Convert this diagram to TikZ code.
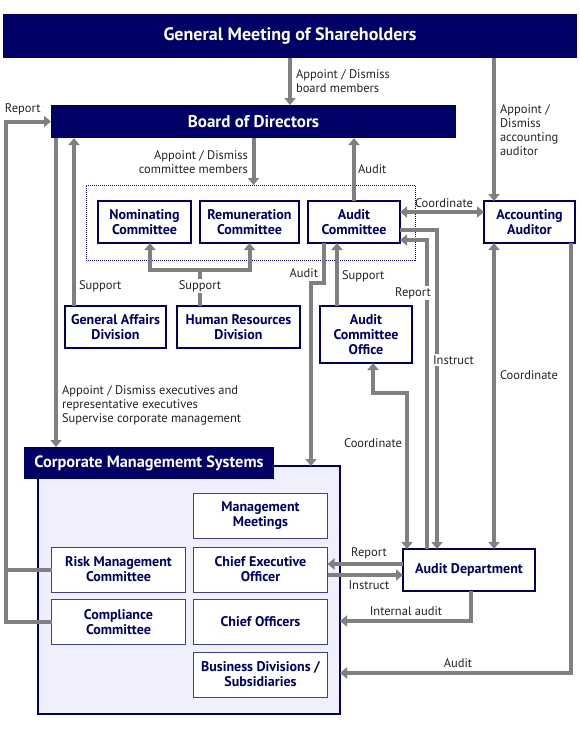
\documentclass[tikz,border=0pt]{standalone}
\usepackage{fontspec}
\setmainfont{PT Sans}
\usetikzlibrary{arrows.meta}
\definecolor{navy}{RGB}{0,0,102}
\definecolor{pipegray}{RGB}{128,128,128}
\definecolor{lav}{RGB}{240,240,252}
\definecolor{ink}{RGB}{35,35,35}
\begin{document}
\begin{tikzpicture}[x=1pt,y=-1pt]
\tikzset{ >={Triangle[width=11pt,length=7pt]}, inner sep=0pt, outer sep=0pt,
  bar/.style={fill=navy, text=white, font=\fontsize{18}{20}\selectfont\bfseries},
  cbox/.style={draw=navy, line width=2pt, fill=white, text=navy, align=center,
    minimum height=42pt, font=\fontsize{14}{15}\selectfont\bfseries},
  ibox/.style={draw=navy!75, line width=1pt, fill=white, text=navy, align=center,
    minimum width=134pt, minimum height=45pt, font=\fontsize{14}{15}\selectfont\bfseries},
  lbl/.style={text=ink, font=\fontsize{12.5}{14}\selectfont, align=left},
  wlbl/.style={lbl, fill=white, inner sep=1.5pt},
  pipe/.style={pipegray, line width=4pt},
  arr/.style={pipe, ->},
  darr/.style={pipe, <->},
}
\useasboundingbox (0,0) rectangle (580,729);

%\draw [lightgray, dashed] (0,0) grid [step=50] (580,729);

\node [bar, minimum width=574pt, minimum height=44pt] (GMS) at (290,36) {General Meeting of Shareholders};
\node [bar, minimum width=405pt, minimum height=33pt, font=\fontsize{17}{19}\selectfont\bfseries] (BD) at (253.5,121.5) {Board of Directors};

\node [draw=navy, densely dotted, line width=1pt, minimum width=329pt, minimum height=75pt] (CG) at (250.5,222.5) {};
\node [cbox, minimum width=93pt] (NC) at (144.5,222) {Nominating\\Committee};
\node [cbox, minimum width=99pt] (RC) at (249.5,222) {Remuneration\\Committee};
\node [cbox, minimum width=92pt] (AC) at (354,222) {Audit\\Committee};
\node [cbox, minimum width=91pt] (AA) at (529.5,222) {Accounting\\Auditor};

\node [cbox, minimum width=101pt] (GAD) at (115.5,327) {General Affairs\\Division};
\node [cbox, minimum width=123pt] (HRD) at (238.5,327) {Human Resources\\Division};
\node [cbox, minimum width=92pt, minimum height=57pt] (ACO) at (366,334.5) {Audit\\Committee\\Office};
\node [cbox, minimum width=132pt] (AD) at (469,570) {Audit Department};

\node [draw=navy, line width=1.5pt, fill=lav, minimum width=302pt, minimum height=248pt] (CMS) at (189,590) {};
\node [bar, minimum width=250pt, minimum height=32pt, font=\fontsize{16.3}{18}\selectfont\bfseries] (CMH) at (149,463) {Corporate Managememt Systems};
\node [ibox] (MM)  at (260.5,515.5) {Management\\Meetings};
\node [ibox] (CEO) at (260.5,569.5) {Chief Executive\\Officer};
\node [ibox] (CO)  at (260.5,622)   {Chief Officers};
\node [ibox] (BDS) at (260.5,674.5) {Business Divisions /\\Subsidiaries};
\node [ibox] (RMC) at (118.5,569.5) {Risk Management\\Committee};
\node [ibox] (CC)  at (118.5,622)   {Compliance\\Committee};

\coordinate (xL) at (6,0);
\coordinate (xE) at (56,0);
\coordinate (xG) at (74,0);
\coordinate (xS) at (337,0);
\coordinate (xA) at (494,0);
\coordinate (hs) at (200,270);
\coordinate (hn) at (150,270);
\coordinate (au) at (324,283);
\coordinate (ab) at (311,283);
\coordinate (co) at (0,212);
\coordinate (rp) at (427,240);
\coordinate (ins) at (437,230);
\coordinate (cd) at (407,393);
\coordinate (ce) at (373,393);
\coordinate (ax) at (571,673);
\coordinate (ia) at (471,621);
\coordinate (rp2) at (0,564);
\coordinate (in2) at (0,575);

\draw [arr] (GMS.south) -- (GMS.south |- BD.north);
\draw [arr] (xA |- GMS.south) -- (xA |- AA.north);
\draw [darr] (xA |- AA.south) -- (xA |- AD.north);

\draw [arr] (RMC.west) -- (xL |- RMC.west) -- (xL |- BD.west) -- (BD.west);
\draw [pipe] (CC.west) -- (xL |- CC.west) -- (xL |- RMC.west);
\draw [arr] (xE |- BD.south) -- (xE |- CMH.north);
\draw [arr] (xG |- GAD.north) -- (xG |- BD.south);
\draw [arr] (BD.south) -- (BD.south |- CG.north);
\draw [arr] (AC.north) -- (AC.north |- BD.south);

\draw [pipe] (hs |- HRD.north) -- (hs);
\draw [darr] (hn |- NC.south) -- (hn) -| (RC.south);

\draw [arr] (xS |- ACO.north) -- (xS |- AC.south);
\draw [arr] (au |- AC.south) -- (au) -- (ab) -- (ab |- CMS.north);
\draw [darr] (co -| AC.east) -- (co -| AA.west);
\draw [arr] (rp |- AD.north) -- (rp) -- (rp -| AC.east);
\draw [arr] (ins -| AC.east) -- (ins) -- (ins |- AD.north);
\draw [darr] (cd |- AD.north) -- (cd) -- (ce) -- (ce |- ACO.south);
\draw [arr] (ax |- AA.south) -- (ax) -- (ax -| CMS.east);

\draw [arr] (rp2 -| AD.west) -- (rp2 -| CEO.east);
\draw [arr] (in2 -| CEO.east) -- (in2 -| AD.west);
\draw [arr] (ia |- AD.south) -- (ia) -- (ia -| CMS.east);

\node [lbl, anchor=west] at (296,81) {Appoint / Dismiss\\board members};
\node [lbl, anchor=west] at (500,130) {Appoint /\\Dismiss\\accounting\\auditor};
\node [lbl, anchor=west] at (5,109) {Report};
\node [lbl, anchor=east, align=right] at (248,162.5) {Appoint / Dismiss\\committee members};
\node [lbl, anchor=west] at (358,169) {Audit};
\node [lbl] at (444,203) {Coordinate};
\node [lbl, anchor=east] at (318,273) {Audit};
\node [lbl, anchor=west] at (79,286) {Support};
\node [wlbl] at (200,286) {Support};
\node [lbl, anchor=west] at (342,276) {Support};
\node [wlbl] at (413,293) {Report};
\node [wlbl] at (453.5,360) {Instruct};
\node [lbl, anchor=west] at (500,375) {Coordinate};
\node [lbl, anchor=east] at (402,443) {Coordinate};
\node [lbl, anchor=west] at (62,405) {Appoint / Dismiss executives and\\representative executives\\Supervise corporate management};
\node [lbl] at (369,553) {Report};
\node [lbl] at (369,585) {Instruct};
\node [lbl] at (406,611) {Internal audit};
\node [lbl] at (458,663) {Audit};

\end{tikzpicture}
\end{document}
